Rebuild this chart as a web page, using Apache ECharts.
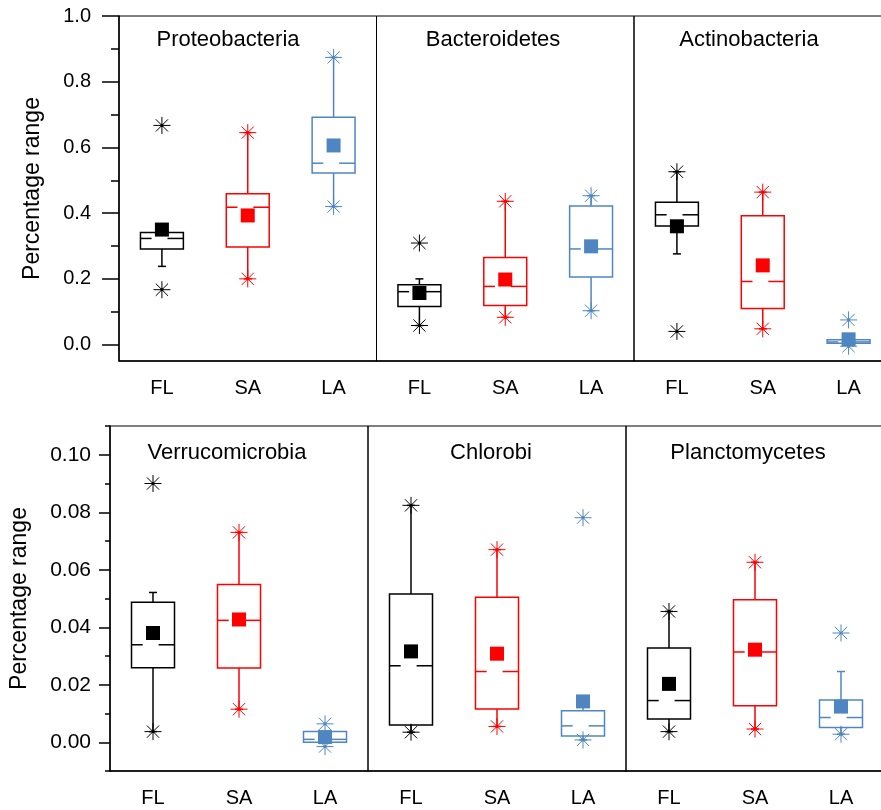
<!DOCTYPE html>
<html>
<head>
<meta charset="utf-8">
<script src="https://cdn.jsdelivr.net/npm/echarts@6/dist/echarts.min.js"></script>
<style>
  html, body { margin: 0; padding: 0; background: #fff; }
  #chart { width: 881px; height: 810px; }
</style>
</head>
<body>
<div id="chart"></div>
<script>
const groups = ['FL', 'SA', 'LA'];
const groupColors = ['#000000', '#ff0000', '#4f86c2'];
const topPanelNames = ['Proteobacteria', 'Bacteroidetes', 'Actinobacteria'];
const bottomPanelNames = ['Verrucomicrobia', 'Chlorobi', 'Planctomycetes'];

const topMajorTicks = [0, 0.2, 0.4, 0.6, 0.8, 1.0];
const topMinorTicks = [0.1, 0.3, 0.5, 0.7, 0.9];
const bottomMajorTicks = [0, 0.02, 0.04, 0.06, 0.08, 0.10];
const bottomMinorTicks = [-0.01, 0.01, 0.03, 0.05, 0.07, 0.09, 0.11];

// box rows are [whisker low, Q1, median, Q3, whisker high] for FL, SA, LA
// extremes are the two star markers [low, high]
const proteobacteriaBox = [
  [0.238, 0.291, 0.323, 0.341, 0.341],
  [0.200, 0.297, 0.418, 0.459, 0.645],
  [0.420, 0.522, 0.552, 0.692, 0.874]
];
const proteobacteriaMean = [0.350, 0.393, 0.606];
const proteobacteriaExtremes = [[0.167, 0.667], [0.200, 0.645], [0.420, 0.874]];

const bacteroidetesBox = [
  [0.058, 0.116, 0.161, 0.182, 0.200],
  [0.083, 0.119, 0.177, 0.265, 0.436],
  [0.103, 0.206, 0.291, 0.422, 0.453]
];
const bacteroidetesMean = [0.157, 0.198, 0.299];
const bacteroidetesExtremes = [[0.058, 0.309], [0.083, 0.436], [0.103, 0.453]];

const actinobacteriaBox = [
  [0.276, 0.361, 0.395, 0.433, 0.526],
  [0.048, 0.110, 0.192, 0.392, 0.464],
  [0.004, 0.004, 0.008, 0.015, 0.015]
];
const actinobacteriaMean = [0.360, 0.241, 0.016];
const actinobacteriaExtremes = [[0.040, 0.526], [0.048, 0.464], [-0.005, 0.075]];

const verrucomicrobiaBox = [
  [0.0037, 0.0259, 0.0339, 0.0487, 0.0521],
  [0.0115, 0.0258, 0.0424, 0.0549, 0.0730],
  [0.0000, 0.0000, 0.0010, 0.0037, 0.0037]
];
const verrucomicrobiaMean = [0.0380, 0.0427, 0.0018];
const verrucomicrobiaExtremes = [[0.0037, 0.0900], [0.0115, 0.0730], [-0.0015, 0.0064]];

const chlorobiBox = [
  [0.0035, 0.0060, 0.0266, 0.0516, 0.0824],
  [0.0055, 0.0116, 0.0246, 0.0504, 0.0670],
  [0.0008, 0.0022, 0.0057, 0.0110, 0.0130]
];
const chlorobiMean = [0.0316, 0.0308, 0.0142];
const chlorobiExtremes = [[0.0035, 0.0824], [0.0055, 0.0670], [0.0008, 0.0781]];

const planctomycetesBox = [
  [0.0037, 0.0081, 0.0145, 0.0328, 0.0455],
  [0.0046, 0.0127, 0.0314, 0.0496, 0.0626],
  [0.0028, 0.0051, 0.0086, 0.0147, 0.0246]
];
const planctomycetesMean = [0.0203, 0.0322, 0.0124];
const planctomycetesExtremes = [[0.0037, 0.0455], [0.0046, 0.0626], [0.0028, 0.0380]];

const panels = [
  { name: topPanelNames[0], box: proteobacteriaBox, mean: proteobacteriaMean, extremes: proteobacteriaExtremes },
  { name: topPanelNames[1], box: bacteroidetesBox, mean: bacteroidetesMean, extremes: bacteroidetesExtremes },
  { name: topPanelNames[2], box: actinobacteriaBox, mean: actinobacteriaMean, extremes: actinobacteriaExtremes },
  { name: bottomPanelNames[0], box: verrucomicrobiaBox, mean: verrucomicrobiaMean, extremes: verrucomicrobiaExtremes },
  { name: bottomPanelNames[1], box: chlorobiBox, mean: chlorobiMean, extremes: chlorobiExtremes },
  { name: bottomPanelNames[2], box: planctomycetesBox, mean: planctomycetesMean, extremes: planctomycetesExtremes }
];

const FONT = "'Liberation Sans', Arial, sans-serif";

const rows = [
  {
    top: 16, height: 345, lefts: [119, 376.5, 634], width: 257.5,
    min: -0.05, max: 1.0, major: topMajorTicks, minor: topMinorTicks, digits: 1,
    majorLen: 17, minorLen: 8, labelMargin: 28, labelSize: 20, nameGap: 75,
    titleX: [228, 493, 749], titleTop: 29
  },
  {
    top: 426, height: 345, lefts: [110, 368, 626], width: 258,
    min: -0.01, max: 0.11, major: bottomMajorTicks, minor: bottomMinorTicks, digits: 2,
    majorLen: 11, minorLen: 5, labelMargin: 19, labelSize: 21, nameGap: 79,
    titleX: [227, 491, 748], titleTop: 442
  }
];

function star(cx, cy, color) {
  const r = 8.5, d = r * 0.72;
  const style = { stroke: color, lineWidth: 1 };
  return {
    type: 'group',
    children: [
      { type: 'line', shape: { x1: cx - r, y1: cy, x2: cx + r, y2: cy }, style },
      { type: 'line', shape: { x1: cx, y1: cy - r, x2: cx, y2: cy + r }, style },
      { type: 'line', shape: { x1: cx - d, y1: cy - d, x2: cx + d, y2: cy + d }, style },
      { type: 'line', shape: { x1: cx - d, y1: cy + d, x2: cx + d, y2: cy - d }, style },
      { type: 'circle', shape: { cx, cy, r: 1.6 }, style: { fill: color } }
    ]
  };
}

function renderBox(params, api) {
  const i = api.value(0);
  const color = groupColors[i];
  const half = api.size([1, 0])[0] * 0.25;
  const y = (dim) => api.coord([i, api.value(dim)])[1];
  const cx = api.coord([i, 0])[0];
  const yLow = y(1), yQ1 = y(2), yMed = y(3), yQ3 = y(4), yHigh = y(5), yMean = y(6);
  const x0 = cx - half, x1 = cx + half, w = x1 - x0;
  const line = { stroke: color, lineWidth: 1.5 };
  const children = [star(cx, y(7), color), star(cx, y(8), color)];

  children.push({ type: 'line', shape: { x1: cx, y1: yQ3, x2: cx, y2: yHigh }, style: line });
  children.push({ type: 'line', shape: { x1: cx, y1: yQ1, x2: cx, y2: yLow }, style: line });
  if (yQ3 - yHigh > 1) {
    children.push({ type: 'line', shape: { x1: cx - 4, y1: yHigh, x2: cx + 4, y2: yHigh }, style: line });
  }
  if (yLow - yQ1 > 1) {
    children.push({ type: 'line', shape: { x1: cx - 4, y1: yLow, x2: cx + 4, y2: yLow }, style: line });
  }
  children.push({
    type: 'rect',
    shape: { x: x0, y: yQ3, width: w, height: yQ1 - yQ3 },
    style: { stroke: color, lineWidth: 1.5, fill: 'none' }
  });
  // median is drawn broken in the middle, as in the original figure
  children.push({ type: 'line', shape: { x1: x0, y1: yMed, x2: x0 + w * 0.26, y2: yMed }, style: line });
  children.push({ type: 'line', shape: { x1: x0 + w * 0.63, y1: yMed, x2: x1, y2: yMed }, style: line });
  children.push({
    type: 'rect',
    shape: { x: cx - 7, y: yMean - 7, width: 14, height: 14 },
    style: { fill: color }
  });
  return { type: 'group', children };
}

const grid = [], xAxis = [], yAxis = [], series = [], title = [];

panels.forEach((p, k) => {
  const row = rows[Math.floor(k / 3)];
  const col = k % 3;
  grid.push({
    left: row.lefts[col], top: row.top, width: row.width, height: row.height,
    show: true, borderColor: '#000', borderWidth: 1,
    containLabel: false, outerBoundsMode: 'none'
  });
  xAxis.push({
    type: 'category', gridIndex: k, data: groups,
    axisLine: { onZero: false, lineStyle: { color: '#000', width: 1.5 } },
    axisTick: { alignWithLabel: true, length: 10, lineStyle: { color: '#000', width: 1.5 } },
    axisLabel: { color: '#000', fontSize: 20, fontFamily: FONT, margin: 17 },
    splitLine: { show: false }
  });

  const yIndex = yAxis.length;
  if (col === 0) {
    yAxis.push({
      type: 'value', gridIndex: k, min: row.min, max: row.max, position: 'left',
      name: 'Percentage range', nameLocation: 'middle', nameGap: row.nameGap,
      nameTextStyle: { color: '#000', fontSize: 23, fontFamily: FONT },
      axisLine: { show: true, onZero: false, lineStyle: { color: '#000', width: 1.5 } },
      axisTick: { show: true, length: row.majorLen, customValues: row.major, lineStyle: { color: '#000', width: 1.5 } },
      axisLabel: {
        customValues: row.major, color: '#000', fontSize: row.labelSize, fontFamily: FONT,
        margin: row.labelMargin, formatter: (v) => Number(v).toFixed(row.digits)
      },
      splitLine: { show: false }
    });
    yAxis.push({
      type: 'value', gridIndex: k, min: row.min, max: row.max, position: 'left',
      axisLine: { show: false, onZero: false },
      axisTick: { show: true, length: row.minorLen, customValues: row.minor, lineStyle: { color: '#000', width: 1.5 } },
      axisLabel: { show: false },
      splitLine: { show: false }
    });
  } else {
    yAxis.push({
      type: 'value', gridIndex: k, min: row.min, max: row.max,
      axisLine: { show: false }, axisTick: { show: false }, axisLabel: { show: false },
      splitLine: { show: false }
    });
  }

  title.push({
    text: p.name, left: row.titleX[col], top: row.titleTop, textAlign: 'center', padding: 0,
    textStyle: { color: '#000', fontSize: 22, fontWeight: 'normal', fontFamily: FONT }
  });

  series.push({
    type: 'custom', xAxisIndex: k, yAxisIndex: yIndex,
    renderItem: renderBox,
    data: groups.map((g, i) => [i, ...p.box[i], p.mean[i], ...p.extremes[i]]),
    animation: false
  });
});

const chart = echarts.init(document.getElementById('chart'));
chart.setOption({
  animation: false,
  backgroundColor: '#fff',
  title, grid, xAxis, yAxis, series
});
</script>
</body>
</html>
